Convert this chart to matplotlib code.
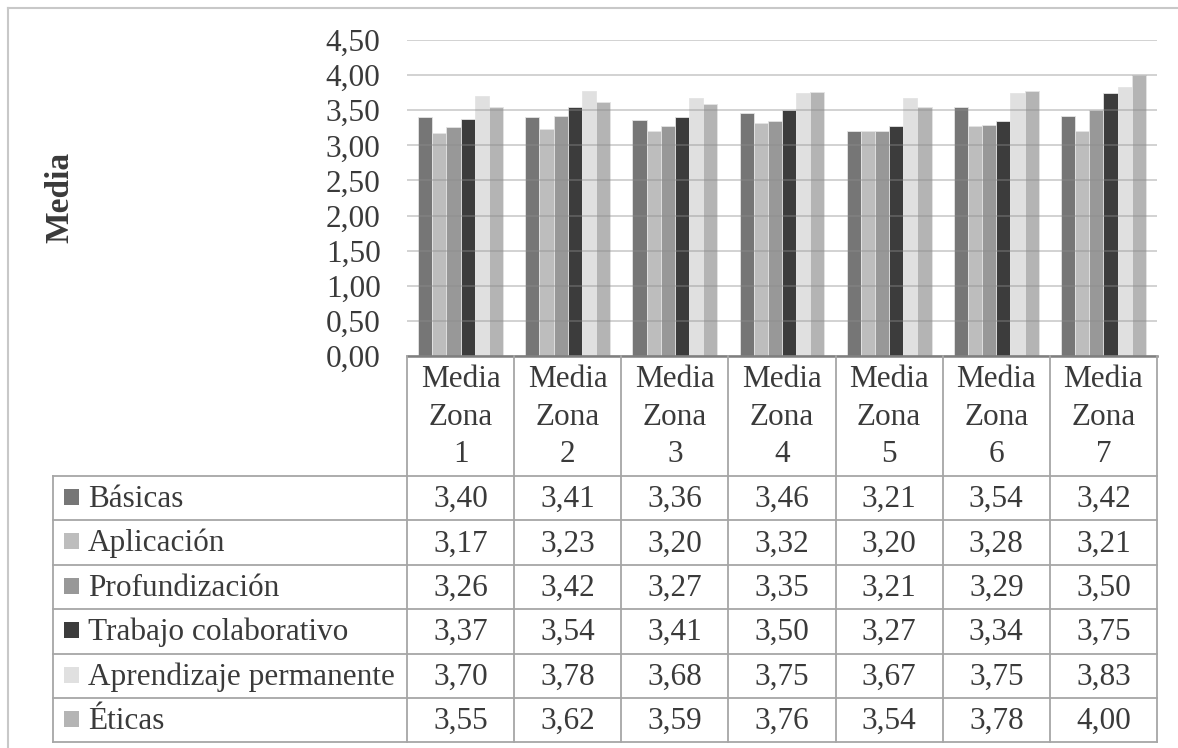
import matplotlib
matplotlib.use("Agg")
import matplotlib.pyplot as plt
from matplotlib.patches import Rectangle

plt.rcParams['font.family'] = ['Liberation Serif', 'DejaVu Serif']

zonas = ['Media\nZona\n1', 'Media\nZona\n2', 'Media\nZona\n3', 'Media\nZona\n4',
         'Media\nZona\n5', 'Media\nZona\n6', 'Media\nZona\n7']
series = ['Básicas', 'Aplicación', 'Profundización', 'Trabajo colaborativo',
          'Aprendizaje permanente', 'Éticas']
basicas = [3.40, 3.41, 3.36, 3.46, 3.21, 3.54, 3.42]
aplicacion = [3.17, 3.23, 3.20, 3.32, 3.20, 3.28, 3.21]
profundizacion = [3.26, 3.42, 3.27, 3.35, 3.21, 3.29, 3.50]
trabajo = [3.37, 3.54, 3.41, 3.50, 3.27, 3.34, 3.75]
aprendizaje = [3.70, 3.78, 3.68, 3.75, 3.67, 3.75, 3.83]
eticas = [3.55, 3.62, 3.59, 3.76, 3.54, 3.78, 4.00]
valores = [basicas, aplicacion, profundizacion, trabajo, aprendizaje, eticas]
colores = ['#767676', '#bdbdbd', '#989898', '#3c3c3c', '#e0e0e0', '#b4b4b4']
yticks = [0, 0.5, 1, 1.5, 2, 2.5, 3, 3.5, 4, 4.5]

FS = 22.5
TXT = '#3a3a3a'

W, H = 1178, 748
fig = plt.figure(figsize=(W / 100, H / 100), dpi=100)

# zona del grafico en pixeles
x0, x1 = 407, 1157
y_top, y_bot = 40, 356
ax = fig.add_axes([x0 / W, 1 - y_bot / H, (x1 - x0) / W, (y_bot - y_top) / H])

n = len(zonas)
bw = 0.132
for i, (vals, c) in enumerate(zip(valores, colores)):
    xs = [k + (i - 2.5) * bw for k in range(n)]
    ax.bar(xs, vals, width=bw, color=c, edgecolor='#e4e4e4', linewidth=0.6, zorder=2)

ax.set_xlim(-0.5, n - 0.5)
ax.set_ylim(0, 4.5)
ax.set_yticks(yticks)
ax.set_yticklabels([f'{v:.2f}'.replace('.', ',') for v in yticks], fontsize=FS, color=TXT)
ax.tick_params(axis='y', length=0, pad=19)
ax.set_xticks([])
for s in ['top', 'right', 'left']:
    ax.spines[s].set_visible(False)
ax.spines['bottom'].set_color('#7f7f7f')
ax.spines['bottom'].set_linewidth(1.8)
ax.spines['bottom'].set_zorder(4)
ax.yaxis.grid(True, color='#8c8c8c', alpha=0.45, linewidth=1.2, zorder=3)
ax.set_axisbelow(False)

# tabla de datos debajo del eje
ov = fig.add_axes([0, 0, 1, 1], facecolor='none')
ov.set_xlim(0, W)
ov.set_ylim(H, 0)
ov.axis('off')

lc = '#a6a6a6'
cols = [x0 + (x1 - x0) * k / n for k in range(n + 1)]
row_top = 476
row_h = 44.4
rows = [row_top + row_h * k for k in range(len(series) + 1)]
left = 53

for cx in cols:
    ov.plot([cx, cx], [y_bot, rows[-1]], color=lc, lw=1.3)
ov.plot([left, left], [row_top, rows[-1]], color=lc, lw=1.3)
for ry in rows:
    ov.plot([left, x1], [ry, ry], color=lc, lw=1.3)

for k, z in enumerate(zonas):
    cx = (cols[k] + cols[k + 1]) / 2
    for j, linea in enumerate(z.split('\n')):
        ov.text(cx, 387 + 37.5 * j, linea, ha='center', va='baseline',
                fontsize=FS, color=TXT)

for i, (name, vals, c) in enumerate(zip(series, valores, colores)):
    base = rows[i] + 31
    ov.add_patch(Rectangle((64, rows[i] + 13), 15, 16, facecolor=c, edgecolor='none'))
    ov.text(88, base, name, ha='left', va='baseline', fontsize=FS, color=TXT)
    for k, v in enumerate(vals):
        cx = (cols[k] + cols[k + 1]) / 2
        ov.text(cx, base, f'{v:.2f}'.replace('.', ','), ha='center', va='baseline',
                fontsize=FS, color=TXT)

ov.text(60, 197, 'Media', rotation=90, ha='center', va='center',
        fontsize=24, fontweight='bold', color=TXT)

# marco exterior
ov.plot([8, 8], [8, H], color='#c8c8c8', lw=1.5)
ov.plot([8, W], [8, 8], color='#c8c8c8', lw=1.5)

fig.savefig('out.png', dpi=100)
